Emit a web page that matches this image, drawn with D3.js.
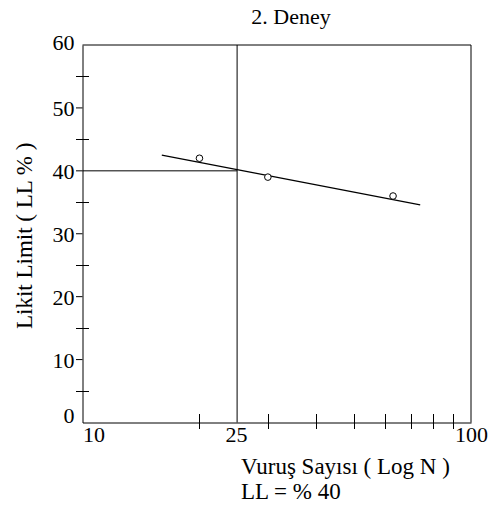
<!DOCTYPE html>
<html>
<head>
<meta charset="utf-8">
<script src="https://cdn.jsdelivr.net/npm/d3@7"></script>
<style>
  html, body { margin: 0; padding: 0; background: #fff; }
  svg { display: block; }
</style>
</head>
<body>
<svg id="chart" width="494" height="506"></svg>
<script>
// Liquid limit test, trial 2: blow count (log scale) vs water content
const blows = [20, 30, 63];
const liquidLimit = [42, 39, 36];

// Fitted flow line end points
const flowN = [16, 74];
const flowLL = [42.5, 34.6];

// Reading at 25 blows
const readN = 25;
const readLL = 40;

const xLabelTicks = [10, 25, 100];
const xMinorTicks = [20, 30, 40, 50, 60, 70, 80, 90];
const yLabelTicks = [0, 10, 20, 30, 40, 50, 60];
const yMajorTicks = [10, 20, 30, 40, 50];
const yMinorTicks = [5, 15, 25, 35, 45, 55];

const FONT = "Liberation Serif";
const svg = d3.select("#chart").attr("font-family", FONT);
const plotLeft = 82.5, plotRight = 471, plotTop = 45, plotBottom = 422.5;

const x = d3.scaleLog().domain([10, 100]).range([plotLeft, plotRight]);
const y = d3.scaleLinear().domain([0, 60]).range([plotBottom, plotTop]);

// Frame
svg.append("path")
  .attr("d", `M${plotLeft},${plotTop}H${plotRight}V${plotBottom}`)
  .attr("fill", "none").attr("stroke", "#000").attr("stroke-width", 1);

// Y axis
const yAxis = svg.append("g").attr("transform", `translate(${plotLeft},0)`)
  .call(d3.axisLeft(y).tickValues(yLabelTicks).tickSize(0).tickPadding(8));
yAxis.attr("font-family", FONT).attr("font-size", 22);
yAxis.select(".domain").attr("stroke", "#000");
yAxis.selectAll("text")
  .attr("fill", "#000")
  .attr("dy", d => d === 0 ? "0.02em" : d === 60 ? "0.2em" : "0.34em");

svg.append("g").selectAll("line").data(yMajorTicks).join("line")
  .attr("x1", plotLeft - 6.5).attr("x2", plotLeft)
  .attr("y1", d => y(d)).attr("y2", d => y(d))
  .attr("stroke", "#000");
svg.append("g").selectAll("line").data(yMinorTicks).join("line")
  .attr("x1", plotLeft - 6.5).attr("x2", plotLeft + 6.5)
  .attr("y1", d => Math.round(y(d)) + 0.5).attr("y2", d => Math.round(y(d)) + 0.5)
  .attr("stroke", "#000");

// X axis
const xAxis = svg.append("g").attr("transform", `translate(0,${plotBottom})`)
  .call(d3.axisBottom(x).tickValues(xLabelTicks).tickFormat(d3.format("d")).tickSize(0).tickPadding(4));
xAxis.attr("font-family", FONT).attr("font-size", 22);
xAxis.select(".domain").attr("stroke", "#000");
xAxis.selectAll("text")
  .attr("fill", "#000")
  .attr("text-anchor", d => d === 10 ? "start" : "middle")
  .attr("dx", d => d === 25 ? -1 : 0);

svg.append("g").selectAll("line").data(xMinorTicks).join("line")
  .attr("x1", d => Math.round(x(d)) + 0.5).attr("x2", d => Math.round(x(d)) + 0.5)
  .attr("y1", plotBottom - 8.5).attr("y2", plotBottom + 6.5)
  .attr("stroke", "#000");

// Reading lines at N = 25
svg.append("line")
  .attr("x1", x(readN)).attr("x2", x(readN))
  .attr("y1", plotTop).attr("y2", plotBottom)
  .attr("stroke", "#000");
svg.append("line")
  .attr("x1", plotLeft).attr("x2", x(readN))
  .attr("y1", y(readLL)).attr("y2", y(readLL))
  .attr("stroke", "#000");

// Flow line
svg.append("line")
  .attr("x1", x(flowN[0])).attr("y1", y(flowLL[0]))
  .attr("x2", x(flowN[1])).attr("y2", y(flowLL[1]))
  .attr("stroke", "#000").attr("stroke-width", 1.2);

// Test points
svg.append("g").selectAll("circle").data(blows).join("circle")
  .attr("cx", d => x(d))
  .attr("cy", (d, i) => y(liquidLimit[i]))
  .attr("r", 3.3)
  .attr("fill", "#fff").attr("stroke", "#000").attr("stroke-width", 1);

// Titles
svg.append("text").attr("x", 291).attr("y", 23.5)
  .attr("text-anchor", "middle").attr("font-size", 22).text("2. Deney");

svg.append("text")
  .attr("transform", "translate(32,329) rotate(-90)")
  .attr("text-anchor", "start").attr("font-size", 23)
  .text("Likit Limit ( LL % )");

svg.append("text").attr("x", 241).attr("y", 474)
  .attr("font-size", 23).text("Vuruş Sayısı ( Log N )");
svg.append("text").attr("x", 241).attr("y", 499)
  .attr("font-size", 23).text("LL = % " + readLL);
</script>
</body>
</html>
